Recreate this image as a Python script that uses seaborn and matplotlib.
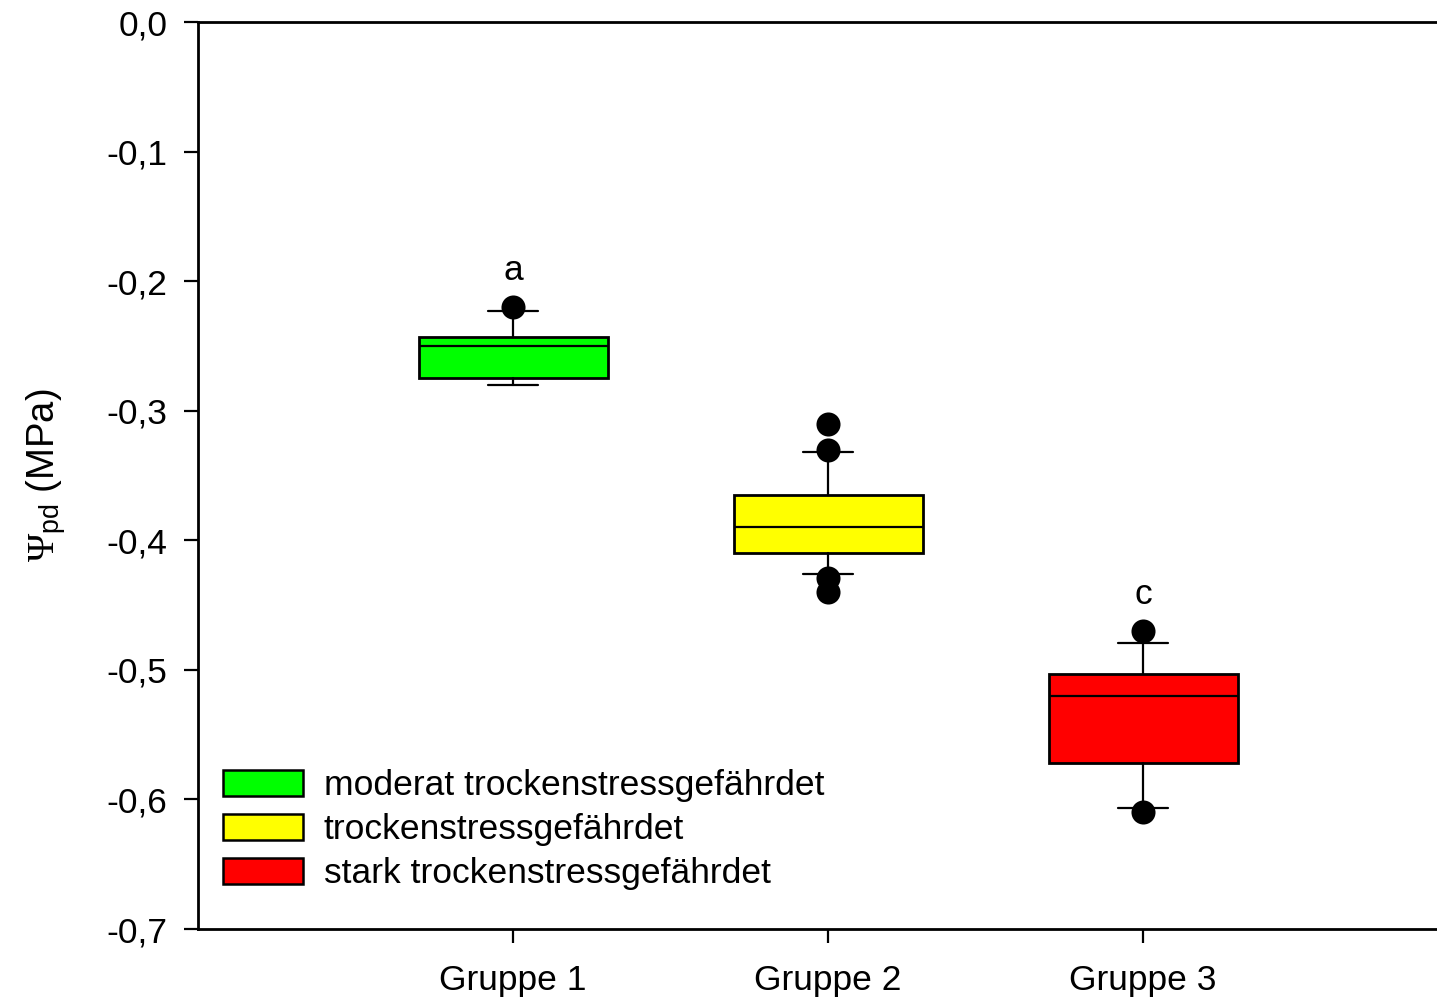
import matplotlib
matplotlib.use("Agg")
import matplotlib.pyplot as plt
from matplotlib.patches import Patch
from matplotlib.ticker import MultipleLocator, FuncFormatter
import pandas as pd
import seaborn as sns

# Box statistics per group (MPa)
groups = ["Gruppe 1", "Gruppe 2", "Gruppe 3"]
whis_low = [-0.280, -0.426, -0.607]
q1 = [-0.275, -0.410, -0.572]
median = [-0.250, -0.390, -0.520]
q3 = [-0.243, -0.365, -0.503]
whis_high = [-0.223, -0.332, -0.479]
outliers = [[-0.220], [-0.310, -0.330, -0.429, -0.440], [-0.470, -0.610]]
letters = ["a", "", "c"]
colors = ["#00FF00", "#FFFF00", "#FF0000"]
legend_labels = ["moderat trockenstressgefährdet",
                 "trockenstressgefährdet",
                 "stark trockenstressgefährdet"]

sns.set_theme(style="ticks")
plt.rcParams["font.family"] = ["Liberation Sans", "DejaVu Sans"]
plt.rcParams["mathtext.fontset"] = "custom"
plt.rcParams["mathtext.rm"] = "Liberation Serif"
plt.rcParams["mathtext.it"] = "Liberation Serif:italic"
plt.rcParams["mathtext.bf"] = "Liberation Serif:bold"
plt.rcParams["text.color"] = "black"

FS = 25.5

fig = plt.figure(figsize=(14.37, 10), dpi=100)
ax = fig.add_axes([198 / 1437, 0.071, 1 - 198 / 1437, 0.907])

positions = [1, 2, 3]
stats = []
for i, g in enumerate(groups):
    stats.append(dict(label=g, whislo=whis_low[i], q1=q1[i], med=median[i],
                      q3=q3[i], whishi=whis_high[i], fliers=[]))

box_lw = 2.0
line_lw = 1.6
bp = ax.bxp(stats, positions=positions, widths=0.6, capwidths=0.16,
            patch_artist=True, showfliers=False,
            boxprops=dict(linewidth=box_lw, edgecolor="black"),
            medianprops=dict(color="black", linewidth=line_lw),
            whiskerprops=dict(color="black", linewidth=line_lw),
            capprops=dict(color="black", linewidth=line_lw))
for patch, c in zip(bp["boxes"], colors):
    patch.set_facecolor(c)

# Outlying points
rows = []
for i, pts in enumerate(outliers):
    for v in pts:
        rows.append({"pos": positions[i], "value": v})
df_out = pd.DataFrame(rows)
sns.scatterplot(data=df_out, x="pos", y="value", ax=ax, color="black",
                s=300, edgecolor="black", linewidth=0, zorder=5, legend=False)

# Significance letters above the highest point of each group
for i, let in enumerate(letters):
    if not let:
        continue
    top = max([whis_high[i]] + outliers[i])
    ax.text(positions[i], top + 0.021, let, ha="center", va="baseline",
            fontsize=FS, color="black")

ax.set_xlim(0, 3.933)
ax.set_ylim(-0.7, 0.0)
ax.set_xticks(positions)
ax.set_xticklabels(groups)
ax.yaxis.set_major_locator(MultipleLocator(0.1))


def comma_fmt(v, _):
    if abs(v) < 1e-9:
        v = 0.0
    return f"{v:.1f}".replace(".", ",")


ax.yaxis.set_major_formatter(FuncFormatter(comma_fmt))
ax.tick_params(axis="both", direction="out", length=10, width=1.6,
               color="black", labelsize=FS, labelcolor="black")
ax.tick_params(axis="y", pad=12)
ax.tick_params(axis="x", pad=15)
ax.set_xlabel("")
ax.set_ylabel(r"$\Psi_{\mathregular{pd}}$ (MPa)", fontsize=FS + 2,
              labelpad=28, color="black")

for side in ["left", "top", "bottom"]:
    ax.spines[side].set_visible(True)
    ax.spines[side].set_linewidth(2.0)
    ax.spines[side].set_color("black")
ax.spines["right"].set_visible(False)

handles = [Patch(facecolor=c, edgecolor="black", linewidth=1.8)
           for c in colors]
ax.legend(handles, legend_labels, loc="upper left",
          bbox_to_anchor=(223 / 1437, 1 - 769 / 1000),
          bbox_transform=fig.transFigure, frameon=False, fontsize=FS,
          borderpad=0, borderaxespad=0, handlelength=2.25, handleheight=0.75,
          handletextpad=0.6, labelspacing=0.31)

fig.savefig("out.png", dpi=100)
